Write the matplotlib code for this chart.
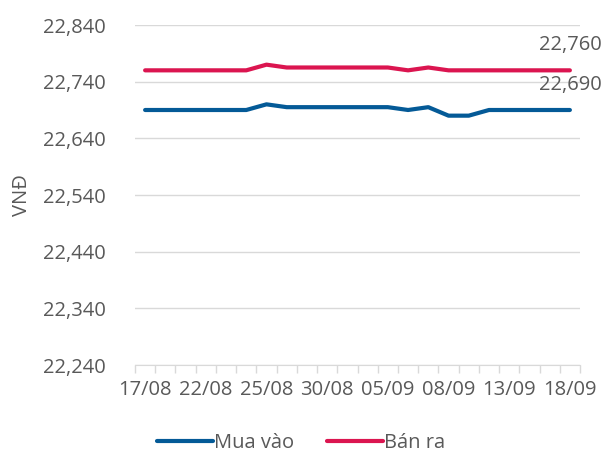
import matplotlib
matplotlib.use("Agg")
import matplotlib.pyplot as plt
import numpy as np

dates = ["17/08", "18/08", "19/08", "22/08", "23/08", "24/08", "25/08", "26/08",
         "29/08", "30/08", "31/08", "01/09", "05/09", "06/09", "07/09", "08/09",
         "09/09", "12/09", "13/09", "14/09", "15/09", "18/09"]
mua_vao = [22690, 22690, 22690, 22690, 22690, 22690, 22700, 22695, 22695, 22695,
           22695, 22695, 22695, 22690, 22695, 22680, 22680, 22690, 22690, 22690,
           22690, 22690]
ban_ra = [22760, 22760, 22760, 22760, 22760, 22760, 22770, 22765, 22765, 22765,
          22765, 22765, 22765, 22760, 22765, 22760, 22760, 22760, 22760, 22760,
          22760, 22760]
y_ticks = [22240, 22340, 22440, 22540, 22640, 22740, 22840]
label_every = 3

plt.rcParams['font.family'] = ['Open Sans', 'DejaVu Sans']
txt = "#595959"
fs = 14.5
fig = plt.figure(figsize=(6.02, 4.57), dpi=100)
ax = fig.add_axes([135/602, 1-365/457, 445/602, 340/457])

x = np.arange(len(dates))
ax.plot(x, mua_vao, color="#045A97", lw=3, label="Mua vào", solid_capstyle="round")
ax.plot(x, ban_ra, color="#DB1550", lw=3, label="Bán ra", solid_capstyle="round")

ax.set_xlim(-0.5, len(dates) - 0.5)
ax.set_ylim(y_ticks[0], y_ticks[-1])
ax.set_yticks(y_ticks)
ax.set_yticklabels([f"{v:,}" for v in y_ticks])
ax.grid(axis="y", color="#d9d9d9", lw=1)
ax.set_axisbelow(True)

major = x[::label_every]
ax.set_xticks(major)
ax.set_xticklabels([dates[i] for i in major])
ax.set_xticks(np.arange(-0.5, len(dates), 1), minor=True)
ax.tick_params(axis="x", which="major", length=0, pad=11, labelsize=fs, labelcolor=txt)
ax.tick_params(axis="x", which="minor", length=6, color="#d9d9d9", width=1)
ax.tick_params(axis="y", length=0, pad=21, labelsize=fs, labelcolor=txt)

for s in ["top", "right", "left"]:
    ax.spines[s].set_visible(False)
ax.spines["bottom"].set_color("#d9d9d9")

ax.set_ylabel("VNĐ", color=txt, fontsize=fs, labelpad=8)

ax.annotate(f"{ban_ra[-1]:,}", (x[-1], ban_ra[-1]), xytext=(0, 11), textcoords="offset points",
            ha="center", va="bottom", fontsize=fs, color=txt)
ax.annotate(f"{mua_vao[-1]:,}", (x[-1], mua_vao[-1]), xytext=(0, 11), textcoords="offset points",
            ha="center", va="bottom", fontsize=fs, color=txt)

fig.legend(loc="lower center", bbox_to_anchor=(0.5, -0.03), ncol=2, frameon=False,
           fontsize=fs, labelcolor=txt, handlelength=2.8, handletextpad=0.05, columnspacing=1.6)

fig.savefig("out.png", dpi=100)
